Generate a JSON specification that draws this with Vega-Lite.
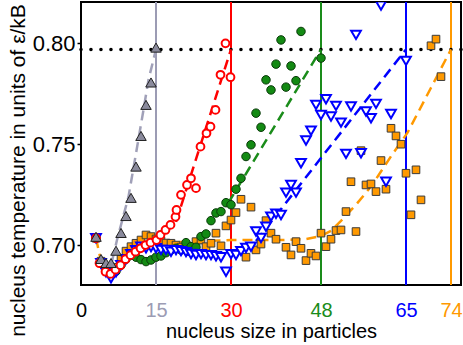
{
  "$schema": "https://vega.github.io/schema/vega-lite/v6.json",
  "width": 380,
  "height": 283,
  "autosize": {"type": "none"},
  "padding": {"left": 81, "top": 2, "right": 2, "bottom": 60},
  "config": {
    "font": "Liberation Sans",
    "view": {"stroke": "black", "strokeWidth": 2},
    "axis": {"grid": false, "domain": false, "titleFontWeight": "normal", "titleColor": "black", "labelColor": "black"}
  },
  "datasets": {
    "vlines": [
      {"x": 15, "c": "#9c9cb4"},
      {"x": 30, "c": "#ff0000"},
      {"x": 48, "c": "#1a8c1a"},
      {"x": 65, "c": "#0000ff"},
      {"x": 74, "c": "#ff9900"}
    ],
    "hline": [{"y": 0.797}],
    "fits": [
      {"s": "gray", "x": 6.2, "y": 0.692}, {"s": "gray", "x": 7.2, "y": 0.7025}, {"s": "gray", "x": 9.5, "y": 0.724}, {"s": "gray", "x": 10.2, "y": 0.734}, {"s": "gray", "x": 12.5, "y": 0.767}, {"s": "gray", "x": 13.5, "y": 0.782}, {"s": "gray", "x": 15, "y": 0.797},
      {"s": "red", "x": 19, "y": 0.7115}, {"s": "red", "x": 30, "y": 0.797},
      {"s": "green", "x": 29.5, "y": 0.721}, {"s": "green", "x": 48, "y": 0.797},
      {"s": "blue", "x": 35, "y": 0.702}, {"s": "blue", "x": 65, "y": 0.797},
      {"s": "orange", "x": 3, "y": 0.7034}, {"s": "orange", "x": 4, "y": 0.692}, {"s": "orange", "x": 6, "y": 0.688}, {"s": "orange", "x": 8, "y": 0.692}, {"s": "orange", "x": 10, "y": 0.697}, {"s": "orange", "x": 14, "y": 0.7}, {"s": "orange", "x": 20, "y": 0.7015}, {"s": "orange", "x": 30, "y": 0.7025}, {"s": "orange", "x": 40, "y": 0.7025}, {"s": "orange", "x": 45, "y": 0.703}, {"s": "orange", "x": 48, "y": 0.7045}, {"s": "orange", "x": 50, "y": 0.707}, {"s": "orange", "x": 52, "y": 0.712}, {"s": "orange", "x": 55, "y": 0.72}, {"s": "orange", "x": 58, "y": 0.729}, {"s": "orange", "x": 62, "y": 0.744}, {"s": "orange", "x": 65.3, "y": 0.7557}, {"s": "orange", "x": 70, "y": 0.778}, {"s": "orange", "x": 74, "y": 0.797}
    ],
    "gray": [
      {"x": 3, "y": 0.7041}, {"x": 4, "y": 0.6931}, {"x": 5, "y": 0.6911}, {"x": 6, "y": 0.6911}, {"x": 7, "y": 0.6972}, {"x": 8, "y": 0.706}, {"x": 9, "y": 0.7144}, {"x": 10, "y": 0.7234}, {"x": 11, "y": 0.7389}, {"x": 12, "y": 0.7541}, {"x": 13, "y": 0.7695}, {"x": 14, "y": 0.7806}, {"x": 15, "y": 0.7979}
    ],
    "red": [
      {"x": 3, "y": 0.7034}, {"x": 3.7, "y": 0.691}, {"x": 4.9, "y": 0.6868}, {"x": 5.9, "y": 0.6857}, {"x": 6.9, "y": 0.6878}, {"x": 7.9, "y": 0.69}, {"x": 8.9, "y": 0.693}, {"x": 9.9, "y": 0.695}, {"x": 10.9, "y": 0.6967}, {"x": 11.9, "y": 0.6984}, {"x": 12.9, "y": 0.7}, {"x": 13.9, "y": 0.7012}, {"x": 15.1, "y": 0.7025}, {"x": 15.9, "y": 0.705}, {"x": 16.9, "y": 0.7075}, {"x": 17.9, "y": 0.71}, {"x": 18.9, "y": 0.714}, {"x": 19.1, "y": 0.7174}, {"x": 20, "y": 0.7249}, {"x": 21.2, "y": 0.7298}, {"x": 22, "y": 0.7331}, {"x": 23, "y": 0.7282}, {"x": 23.9, "y": 0.7488}, {"x": 25.1, "y": 0.7554}, {"x": 25.9, "y": 0.7587}, {"x": 26.9, "y": 0.767}, {"x": 27.9, "y": 0.7844}, {"x": 28.9, "y": 0.8}, {"x": 29.9, "y": 0.7832}
    ],
    "green": [
      {"x": 3, "y": 0.7034}, {"x": 4, "y": 0.691}, {"x": 5, "y": 0.687}, {"x": 6, "y": 0.685}, {"x": 7, "y": 0.687}, {"x": 8, "y": 0.69}, {"x": 9, "y": 0.693}, {"x": 10, "y": 0.695}, {"x": 11, "y": 0.694}, {"x": 12, "y": 0.6928}, {"x": 13, "y": 0.6918}, {"x": 14, "y": 0.6926}, {"x": 15, "y": 0.694}, {"x": 16, "y": 0.6946}, {"x": 17, "y": 0.6962}, {"x": 18, "y": 0.6976}, {"x": 19, "y": 0.6984}, {"x": 20, "y": 0.6976}, {"x": 21, "y": 0.7012}, {"x": 22, "y": 0.6992}, {"x": 23, "y": 0.6989}, {"x": 24, "y": 0.7042}, {"x": 25, "y": 0.7055}, {"x": 26, "y": 0.7121}, {"x": 27, "y": 0.7159}, {"x": 28, "y": 0.7166}, {"x": 29, "y": 0.721}, {"x": 30, "y": 0.72}, {"x": 31, "y": 0.7277}, {"x": 32, "y": 0.7331}, {"x": 33, "y": 0.7439}, {"x": 34, "y": 0.7497}, {"x": 35, "y": 0.7654}, {"x": 36, "y": 0.7584}, {"x": 37, "y": 0.7819}, {"x": 38, "y": 0.7769}, {"x": 39, "y": 0.7897}, {"x": 40, "y": 0.8017}, {"x": 41, "y": 0.7783}, {"x": 42, "y": 0.7888}, {"x": 43, "y": 0.7815}, {"x": 44, "y": 0.8059}, {"x": 48, "y": 0.7927}
    ],
    "blue": [
      {"x": 3, "y": 0.7034}, {"x": 4, "y": 0.691}, {"x": 5, "y": 0.6865}, {"x": 6, "y": 0.6835}, {"x": 7, "y": 0.6865}, {"x": 8, "y": 0.69}, {"x": 9, "y": 0.693}, {"x": 10, "y": 0.6955}, {"x": 11, "y": 0.6975}, {"x": 12, "y": 0.6992}, {"x": 13, "y": 0.6984}, {"x": 14, "y": 0.699}, {"x": 15, "y": 0.6984}, {"x": 16, "y": 0.6976}, {"x": 17, "y": 0.6976}, {"x": 18, "y": 0.6967}, {"x": 19, "y": 0.6975}, {"x": 20, "y": 0.697}, {"x": 21, "y": 0.6965}, {"x": 22, "y": 0.6956}, {"x": 23, "y": 0.6951}, {"x": 24, "y": 0.6955}, {"x": 25, "y": 0.695}, {"x": 26, "y": 0.695}, {"x": 27, "y": 0.6945}, {"x": 28, "y": 0.694}, {"x": 29, "y": 0.6868}, {"x": 30, "y": 0.6955}, {"x": 31, "y": 0.6951}, {"x": 32, "y": 0.697}, {"x": 33, "y": 0.6985}, {"x": 34, "y": 0.6992}, {"x": 35, "y": 0.7067}, {"x": 36, "y": 0.7035}, {"x": 37, "y": 0.7091}, {"x": 38, "y": 0.7141}, {"x": 39, "y": 0.7155}, {"x": 40, "y": 0.7149}, {"x": 41, "y": 0.726}, {"x": 42, "y": 0.7298}, {"x": 43, "y": 0.726}, {"x": 44, "y": 0.7406}, {"x": 45, "y": 0.7518}, {"x": 46, "y": 0.7567}, {"x": 47, "y": 0.7695}, {"x": 48, "y": 0.7645}, {"x": 49, "y": 0.7723}, {"x": 50, "y": 0.7637}, {"x": 51, "y": 0.769}, {"x": 52, "y": 0.7607}, {"x": 53, "y": 0.7452}, {"x": 54, "y": 0.7687}, {"x": 55, "y": 0.8042}, {"x": 56, "y": 0.7455}, {"x": 57, "y": 0.7662}, {"x": 58, "y": 0.7629}, {"x": 59, "y": 0.77}, {"x": 60, "y": 0.8187}, {"x": 61, "y": 0.7314}, {"x": 62, "y": 0.765}, {"x": 65, "y": 0.7913}
    ],
    "orange": [
      {"x": 3, "y": 0.7034}, {"x": 4, "y": 0.692}, {"x": 5, "y": 0.688}, {"x": 6, "y": 0.687}, {"x": 7, "y": 0.689}, {"x": 8, "y": 0.693}, {"x": 9, "y": 0.697}, {"x": 10, "y": 0.6992}, {"x": 11, "y": 0.7009}, {"x": 12, "y": 0.7025}, {"x": 13, "y": 0.705}, {"x": 14, "y": 0.7042}, {"x": 15, "y": 0.703}, {"x": 16, "y": 0.702}, {"x": 17, "y": 0.701}, {"x": 18, "y": 0.7009}, {"x": 19, "y": 0.7}, {"x": 20, "y": 0.699}, {"x": 21, "y": 0.6985}, {"x": 22, "y": 0.6967}, {"x": 23, "y": 0.7017}, {"x": 24, "y": 0.7025}, {"x": 25, "y": 0.6992}, {"x": 26, "y": 0.7009}, {"x": 27, "y": 0.7059}, {"x": 28, "y": 0.6996}, {"x": 29, "y": 0.7095}, {"x": 30, "y": 0.7124}, {"x": 31, "y": 0.7161}, {"x": 32, "y": 0.7227}, {"x": 33, "y": 0.694}, {"x": 34, "y": 0.7188}, {"x": 35, "y": 0.6976}, {"x": 36, "y": 0.7005}, {"x": 37, "y": 0.7121}, {"x": 38, "y": 0.7059}, {"x": 39, "y": 0.7029}, {"x": 41, "y": 0.6989}, {"x": 42, "y": 0.6951}, {"x": 43, "y": 0.7017}, {"x": 44, "y": 0.6984}, {"x": 45, "y": 0.6923}, {"x": 46, "y": 0.6959}, {"x": 47, "y": 0.6946}, {"x": 48, "y": 0.7059}, {"x": 49, "y": 0.6992}, {"x": 50, "y": 0.7029}, {"x": 51, "y": 0.7072}, {"x": 52, "y": 0.7075}, {"x": 53, "y": 0.7166}, {"x": 54, "y": 0.7314}, {"x": 55, "y": 0.7067}, {"x": 56, "y": 0.7468}, {"x": 57, "y": 0.7298}, {"x": 58, "y": 0.7303}, {"x": 59, "y": 0.7265}, {"x": 60, "y": 0.7419}, {"x": 61, "y": 0.7277}, {"x": 62, "y": 0.7579}, {"x": 63, "y": 0.7541}, {"x": 64, "y": 0.75}, {"x": 65, "y": 0.7356}, {"x": 66, "y": 0.715}, {"x": 67, "y": 0.7373}, {"x": 68, "y": 0.7224}, {"x": 70, "y": 0.7988}, {"x": 71, "y": 0.8021}, {"x": 72, "y": 0.7835}
    ]
  },
  "encoding": {
    "x": {
      "field": "x", "type": "quantitative",
      "scale": {"domain": [0, 76], "nice": false, "zero": false},
      "axis": {
        "values": [0, 15, 30, 48, 65, 74],
        "ticks": false,
        "labelFlush": false,
        "labelFontSize": 20,
        "labelPadding": 15,
        "labelColor": {
          "condition": [
            {"test": "datum.value == 15", "value": "#9c9cb4"},
            {"test": "datum.value == 30", "value": "#ff0000"},
            {"test": "datum.value == 48", "value": "#1a8c1a"},
            {"test": "datum.value == 65", "value": "#0000ff"},
            {"test": "datum.value == 74", "value": "#ff9900"}
          ],
          "value": "black"
        },
        "title": "nucleus size in particles",
        "titleFontSize": 20,
        "titlePadding": 1
      }
    },
    "y": {
      "field": "y", "type": "quantitative",
      "scale": {"domain": [0.6802, 0.8205], "nice": false, "zero": false},
      "axis": {
        "values": [0.7, 0.75, 0.8],
        "format": ".2f",
        "tickSize": 4,
        "tickWidth": 1.5,
        "tickColor": "black",
        "labelFontSize": 22,
        "labelPadding": 2,
        "title": "nucleus temperature in units of ε/kB",
        "titleFontSize": 21,
        "titleX": -57,
        "titleY": 168,
        "titleAngle": 270,
        "titleAlign": "center",
        "titleBaseline": "alphabetic"
      }
    }
  },
  "layer": [
    {
      "data": {"name": "vlines"},
      "mark": {"type": "rule", "strokeWidth": 2},
      "encoding": {"x": {"field": "x", "type": "quantitative"}, "y": null, "color": {"field": "c", "type": "nominal", "scale": null}}
    },
    {
      "data": {"name": "hline"},
      "mark": {"type": "rule", "strokeWidth": 3.5, "strokeDash": [0.1, 9.9], "strokeCap": "round", "color": "black"},
      "encoding": {"y": {"field": "y", "type": "quantitative"}, "x": null}
    },
    {
      "data": {"name": "fits"},
      "mark": {"type": "line", "strokeWidth": 2.5, "strokeDash": [10, 6], "clip": true},
      "encoding": {
        "detail": {"field": "s", "type": "nominal"},
        "color": {"field": "s", "type": "nominal", "legend": null, "scale": {"domain": ["gray", "red", "green", "blue", "orange"], "range": ["#a0a0b8", "#ff0000", "#1a8c1a", "#0000ff", "#ff9900"]}},
        "order": {"field": "x", "type": "quantitative"}
      }
    },
    {
      "data": {"name": "orange"},
      "mark": {"type": "point", "shape": "square", "size": 58, "filled": true, "fill": "#ff9900", "stroke": "#3a3a3a", "strokeWidth": 1, "opacity": 1, "clip": true}
    },
    {
      "data": {"name": "green"},
      "mark": {"type": "point", "shape": "circle", "size": 72, "filled": true, "fill": "#138a13", "stroke": "#0a3a0a", "strokeWidth": 1, "opacity": 1, "clip": true}
    },
    {
      "data": {"name": "blue"},
      "mark": {"type": "point", "shape": "triangle-down", "size": 95, "filled": false, "fill": "white", "fillOpacity": 1, "stroke": "#0000ff", "strokeWidth": 2, "opacity": 1, "clip": true}
    },
    {
      "data": {"name": "red"},
      "mark": {"type": "point", "shape": "circle", "size": 60, "filled": false, "fill": "white", "fillOpacity": 1, "stroke": "#ff0000", "strokeWidth": 2, "opacity": 1, "clip": true}
    },
    {
      "data": {"name": "gray"},
      "mark": {"type": "point", "shape": "triangle-up", "size": 110, "filled": true, "fill": "#8a8a9c", "stroke": "#202020", "strokeWidth": 1, "opacity": 1, "clip": true}
    }
  ]
}
